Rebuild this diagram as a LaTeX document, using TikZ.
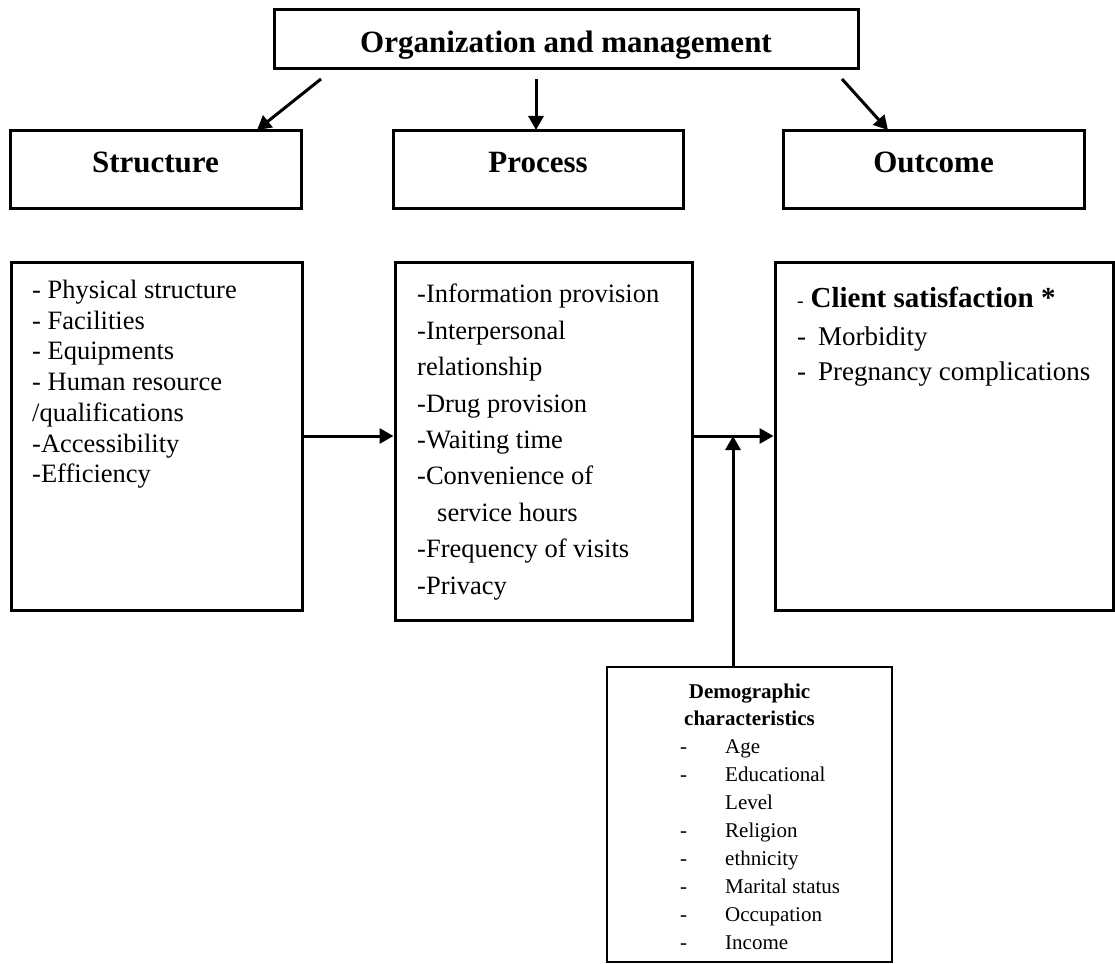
\documentclass[tikz,border=0pt]{standalone}
\usepackage{fontspec}
\setmainfont{Liberation Serif}
\usetikzlibrary{arrows.meta,positioning}

\tikzset{
  box/.style={draw, line width=3pt, inner sep=0pt},
  head/.style={font=\fontsize{31}{36}\selectfont\bfseries, inner sep=0pt, anchor=base},
  body/.style={font=\fontsize{26.5}{30.7}\selectfont, align=left, anchor=north west, inner sep=0pt},
  arr/.style={line width=3pt, -{Triangle[length=14pt,width=15pt]}},
}

\begin{document}
\begin{tikzpicture}[x=1pt,y=-1pt]
\useasboundingbox (0,0) rectangle (1115,963);

\node[box, minimum width=584pt, minimum height=59pt] (org) at (566,39.5) {};
\node[head] (orgtxt) at (566,53) {Organization and management};

\node[box, minimum width=291pt, minimum height=78pt] (str) at (155.5,169) {};
\node[head] (strtxt) at (155.5,172) {Structure};
\node[box, minimum width=290pt, minimum height=78pt] (proc) at (538,169) {};
\node[head] (proctxt) at (538,172) {Process};
\node[box, minimum width=301pt, minimum height=78pt] (out) at (933.5,169) {};
\node[head] (outtxt) at (933.5,172) {Outcome};

\coordinate (orgL) at (321,79);
\coordinate (orgM) at (536,79);
\coordinate (orgR) at (842,79);
\coordinate (strT) at (257,130);
\coordinate (procT) at (536,130);
\coordinate (outT) at (888,130);
\draw[arr] (orgL) -- (strT);
\draw[arr] (orgM) -- (procT);
\draw[arr] (orgR) -- (outT);

\node[box, minimum width=291pt, minimum height=348pt] (strbody) at (156.5,436) {};
\node[box, minimum width=297pt, minimum height=358pt] (procbody) at (543.5,441) {};
\node[box, minimum width=338pt, minimum height=348pt] (outbody) at (944,436) {};

\node[body] (strlist) at (32,280) {- Physical structure\\- Facilities\\- Equipments\\- Human resource\\/qualifications\\-Accessibility\\-Efficiency};
\node[body, font=\fontsize{26.5}{36.4}\selectfont] (proclist) at (417,284) {-Information provision\\-Interpersonal\\relationship\\-Drug provision\\-Waiting time\\-Convenience of\\\hspace{20pt}service hours\\-Frequency of visits\\-Privacy};
\node[body, font=\fontsize{27}{35}\selectfont] (outlist) at (797,287) {{\fontsize{20}{24}\selectfont -} {\fontsize{29}{34}\selectfont\bfseries Client satisfaction *}\\[3pt]-\hspace{12pt}Morbidity\\-\hspace{12pt}Pregnancy complications};

\node[box, line width=2.5pt, minimum width=285pt, minimum height=295pt] (demo) at (749.5,814.5) {};
\node[font=\fontsize{21}{27}\selectfont\bfseries, align=center, anchor=north, inner sep=0pt] (demohead) at (749.5,684) {Demographic\\characteristics};
\node[font=\fontsize{21}{28}\selectfont, align=left, anchor=north west, inner sep=0pt] (demolist) at (680,739) {\makebox[45pt][l]{-}Age\\\makebox[45pt][l]{-}Educational\\\makebox[45pt][l]{}Level\\\makebox[45pt][l]{-}Religion\\\makebox[45pt][l]{-}ethnicity\\\makebox[45pt][l]{-}Marital status\\\makebox[45pt][l]{-}Occupation\\\makebox[45pt][l]{-}Income};

\coordinate (join) at (733,436);
\draw[arr] (strbody.east) -- (strbody.east -| procbody.west);
\draw[arr] (procbody.east |- outbody.west) -- (outbody.west);
\draw[arr] (demo.north -| join) -- (join);
\end{tikzpicture}
\end{document}
